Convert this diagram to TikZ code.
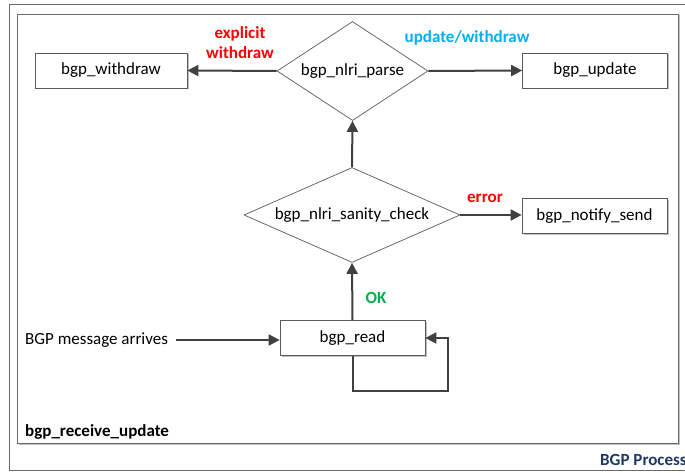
\documentclass[tikz,border=0pt]{standalone}
\usepackage{fontspec}
\setmainfont{Carlito}
\usetikzlibrary{shapes.geometric,arrows.meta,shadows}
\definecolor{edge}{HTML}{404040}
\definecolor{boxline}{HTML}{5A5A5A}
\definecolor{frameline}{HTML}{6A6A6A}
\definecolor{errred}{HTML}{FF0000}
\definecolor{updcyan}{HTML}{00B0F0}
\definecolor{okgreen}{HTML}{00B050}
\definecolor{titleblue}{HTML}{1F3864}
\begin{document}
\begin{tikzpicture}[x=1pt,y=-1pt,
  font=\fontsize{17}{20}\selectfont,
  softshadow/.style={drop shadow={shadow xshift=1.5pt,shadow yshift=-1.5pt,fill=black,opacity=0.25}},
  box/.style={draw=boxline,line width=0.7pt,fill=white,minimum height=35pt,inner sep=0pt,softshadow},
  decision/.style={diamond,draw=boxline,line width=0.7pt,fill=white,inner sep=0pt},
  flow/.style={draw=edge,line width=2pt,-{Triangle[length=11pt,width=11pt]}},
  tag/.style={font=\fontsize{17}{20}\selectfont\bfseries,inner sep=0pt,align=center}]
\useasboundingbox (0,0) rectangle (685,473);
\begin{scope}
\clip (0,0) rectangle (685,473);
% outer panel and the function frame
\draw[frameline,line width=1pt] (9,5) rectangle (720,470);
\draw[frameline,line width=0.8pt,fill=white,softshadow] (17,14) rectangle (678,443);
\node[tag,anchor=west] (fname) at (25,432) {bgp\_receive\_update};
\node[tag,anchor=west,text=titleblue] (panel) at (600,460) {BGP Process};
\end{scope}

% process boxes and decisions
\node[box,minimum width=152pt] (withdraw) at (111,70.5) {bgp\_withdraw};
\node[box,minimum width=145pt] (update) at (595,70.5) {bgp\_update};
\node[box,minimum width=145pt] (notify) at (594.5,216) {bgp\_notify\_send};
\node[box,minimum width=145pt] (read) at (352.5,338) {bgp\_read};
\node[decision,aspect=1.52,minimum width=151pt,minimum height=99pt] (parse) at (352.5,71) {bgp\_nlri\_parse};
\node[decision,aspect=2.27,minimum width=216pt,minimum height=95pt] (sanity) at (352,215) {bgp\_nlri\_sanity\_check};
\node[inner sep=0pt,anchor=west] (msg) at (25,340) {BGP message arrives};

% connectors
\draw[flow,shorten <=8pt] (msg.east) -- (msg.east -| read.west);
\draw[flow] (read.south) -- ++(0,35) -| ([xshift=23pt]read.east) -- (read.east);
\draw[flow] (read.north) -- (sanity.south);
\draw[flow] (sanity.north) -- (parse.south);
\draw[flow] (sanity.east) -- (sanity.east -| notify.west);
\draw[flow] (parse.west) -- (withdraw.east);
\draw[flow] (parse.east) -- (update.west);

% branch labels
\node[tag,text=okgreen] (lok) at (376,298) {OK};
\node[tag,text=errred] (lerr) at (485,198) {error};
\node[tag,text=errred] (lexp) at (240,43) {explicit\\withdraw};
\node[tag,text=updcyan] (lupd) at (467,38) {update/withdraw};
\end{tikzpicture}
\end{document}
